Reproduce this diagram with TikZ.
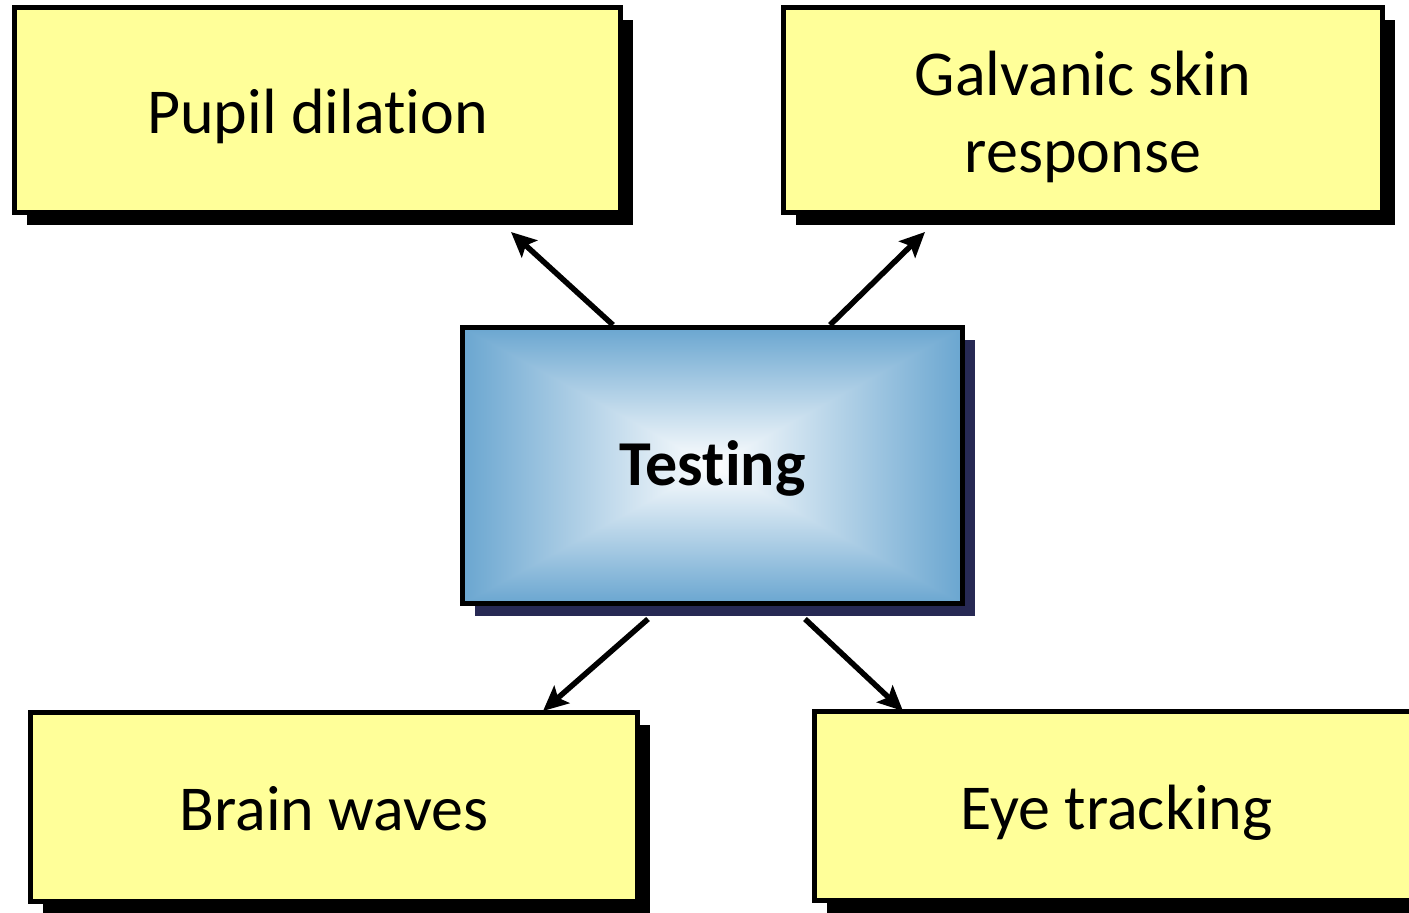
\documentclass[tikz,border=0pt]{standalone}
\usepackage{fontspec}
\setmainfont{Carlito}[Ligatures=NoCommon]
\usetikzlibrary{shadows,arrows.meta}
\pgfdeclarefunctionalshading{rectshade}{\pgfpoint{-50bp}{-50bp}}{\pgfpoint{50bp}{50bp}}{}{
  abs exch abs 2 copy lt {exch} if pop 25 div
  dup 1 gt {pop 1} if
  dup 0.584 mul 1 exch sub exch
  dup 0.349 mul 1 exch sub exch
  0.184 mul 1 exch sub
}
\definecolor{boxyellow}{RGB}{255,255,153}
\definecolor{navyshadow}{RGB}{39,41,84}
\tikzset{
  ybox/.style={draw=black, line width=5.5pt, fill=boxyellow, align=center,
    font=\fontsize{64}{77}\selectfont, inner sep=0pt,
    text height=46pt, text depth=0pt,
    drop shadow={shadow xshift=12pt, shadow yshift=-12pt, fill=black, opacity=1}},
  tbox/.style={draw=black, line width=5.5pt, shading=rectshade, align=center,
    font=\fontsize{64}{77}\selectfont\bfseries, inner sep=0pt,
    text height=39pt, text depth=0pt,
    minimum width=500pt, minimum height=276pt,
    drop shadow={shadow xshift=12pt, shadow yshift=-12pt, fill=navyshadow, opacity=1}},
  conn/.style={line width=5.5pt, -{Stealth[length=25pt,width=23pt,inset=5pt]}}
}
\begin{document}
\begin{tikzpicture}[x=1pt,y=-1pt]
\useasboundingbox (0,0) rectangle (1409,913);
\node[ybox, minimum width=606pt, minimum height=205pt] (pupil) at (317.5,110) {Pupil dilation};
\node[ybox, minimum width=599pt, minimum height=205pt, text height=124pt] (gsr) at (1083,110) {Galvanic skin\\response};
\node[ybox, minimum width=607pt, minimum height=189pt] (brain) at (334,807) {Brain waves};
\node[ybox, minimum width=604pt, minimum height=189pt] (eye) at (1116.5,806) {Eye tracking};
\node[tbox] (test) at (712.5,465.5) {Testing};
\coordinate (s1) at (613,325);
\coordinate (s2) at (830,325);
\coordinate (s3) at (648,619);
\coordinate (s4) at (805,619);
\coordinate (e1) at (511,232);
\coordinate (e2) at (925,232);
\coordinate (e3) at (543,711);
\coordinate (e4) at (903,711);
\draw[conn] (s1) -- (e1);
\draw[conn] (s2) -- (e2);
\draw[conn] (s3) -- (e3);
\draw[conn] (s4) -- (e4);
\end{tikzpicture}
\end{document}
